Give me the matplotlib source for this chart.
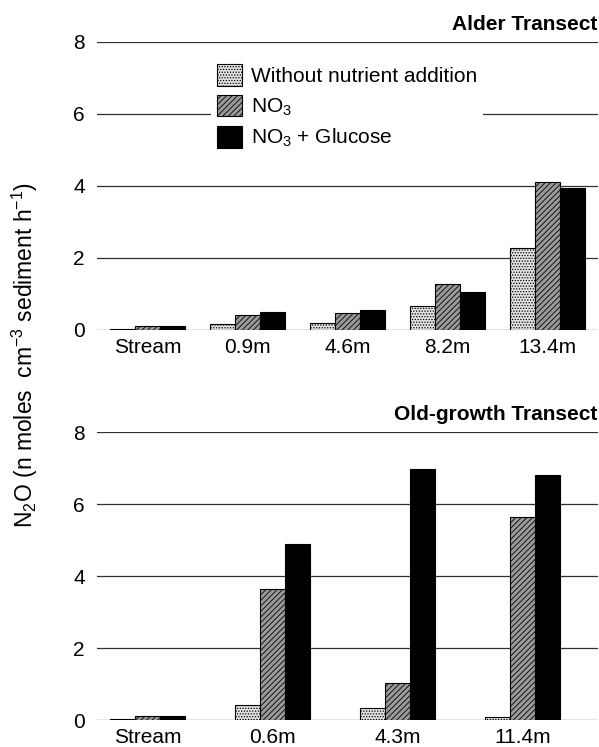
import matplotlib
matplotlib.use("Agg")
import matplotlib.pyplot as plt
import numpy as np

plt.rcParams['font.family'] = ['Liberation Sans', 'DejaVu Sans']
plt.rcParams['mathtext.default'] = 'regular'
plt.rcParams['hatch.linewidth'] = 0.6

series = ["Without nutrient addition", "NO$_3$", "NO$_3$ + Glucose"]

alder_sites = ["Stream", "0.9m", "4.6m", "8.2m", "13.4m"]
alder_none = [0.02, 0.17, 0.20, 0.67, 2.28]
alder_no3 = [0.10, 0.42, 0.46, 1.27, 4.10]
alder_glu = [0.10, 0.49, 0.55, 1.05, 3.95]

old_sites = ["Stream", "0.6m", "4.3m", "11.4m"]
old_none = [0.02, 0.42, 0.32, 0.09]
old_no3 = [0.10, 3.63, 1.02, 5.64]
old_glu = [0.11, 4.90, 6.96, 6.80]

yticks = [0, 2, 4, 6, 8]

styles = [
    dict(facecolor="#e2e2e2", hatch="......", edgecolor="black"),
    dict(facecolor="#9a9a9a", hatch="//////", edgecolor="black"),
    dict(facecolor="black", edgecolor="black"),
]

W, H = 599, 747
fig = plt.figure(figsize=(W / 100, H / 100), dpi=100)

def px_axes(left, top, right, bottom):
    return fig.add_axes([left / W, 1 - bottom / H, (right - left) / W, (bottom - top) / H])

ax1 = px_axes(97.5, 42, 597.5, 330)
ax2 = px_axes(97.5, 432, 597.5, 720)

def draw(ax, sites, vals, width, xlim, title, label_pad):
    x = np.arange(len(sites))
    bars = []
    for i, (v, st) in enumerate(zip(vals, styles)):
        b = ax.bar(x + (i - 1) * width, v, width, linewidth=0.8, zorder=3, **st)
        bars.append(b)
    ax.set_xlim(*xlim)
    ax.set_ylim(0, 8)
    ax.set_yticks(yticks)
    ax.set_xticks(x)
    ax.set_xticklabels(sites, fontsize=15)
    ax.tick_params(axis='x', length=0, pad=label_pad)
    ax.tick_params(axis='y', length=0, pad=9, labelsize=15)
    for s in ax.spines.values():
        s.set_visible(False)
    ax.yaxis.grid(True, color="#303030", linewidth=0.9)
    ax.set_axisbelow(True)
    ax.text(1.0, 1.0 + 17 / 288, title, transform=ax.transAxes, ha="right", va="center",
            fontsize=15, fontweight="bold")
    return bars

bars = draw(ax1, alder_sites, [alder_none, alder_no3, alder_glu], 0.25, (-0.5, 4.5),
            "Alder Transect", 6)
draw(ax2, old_sites, [old_none, old_no3, old_glu], 0.2, (-0.404, 3.6),
     "Old-growth Transect", 5.5)

leg = ax1.legend([b[0] for b in bars], series, loc="upper left",
                 bbox_to_anchor=(211 / W, 1 - 58 / H), bbox_transform=fig.transFigure,
                 fontsize=15, frameon=True, fancybox=False, edgecolor="none",
                 facecolor="white", framealpha=1, borderpad=0.3, borderaxespad=0,
                 handlelength=1.2, handleheight=1.2, handletextpad=0.4, labelspacing=0.42)
leg.set_zorder(5)

fig.text(25 / W, 1 - 355 / H, "N$_2$O (n moles  cm$^{-3}$ sediment h$^{-1}$)",
         rotation=90, ha="center", va="center", fontsize=16.5)

fig.savefig("out.png", dpi=100)
